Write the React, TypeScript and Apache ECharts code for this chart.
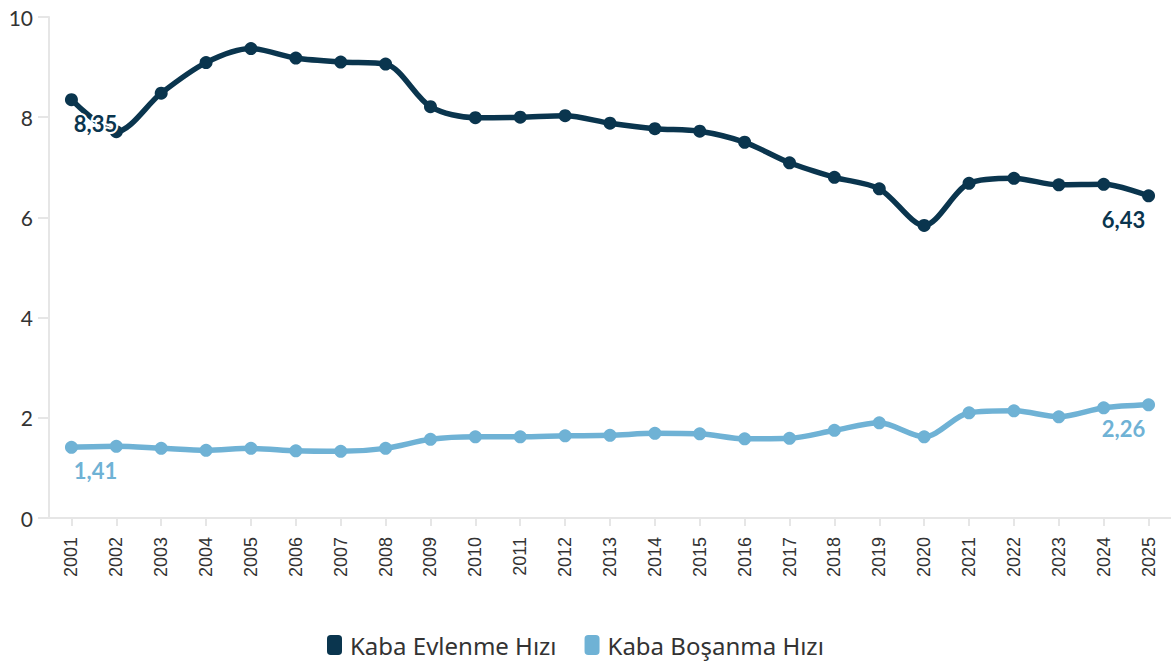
import React, { useEffect, useRef } from "react";
import * as echarts from "echarts";

const years = ["2001","2002","2003","2004","2005","2006","2007","2008","2009","2010","2011","2012","2013","2014","2015","2016","2017","2018","2019","2020","2021","2022","2023","2024","2025"];
const marriageRate = [8.35,7.71,8.48,9.09,9.37,9.18,9.10,9.06,8.21,7.99,8.00,8.03,7.88,7.77,7.72,7.50,7.09,6.80,6.57,5.84,6.68,6.78,6.65,6.66,6.43];
const divorceRate = [1.41,1.43,1.39,1.35,1.39,1.34,1.33,1.39,1.57,1.62,1.62,1.64,1.65,1.69,1.68,1.58,1.59,1.75,1.90,1.62,2.10,2.14,2.02,2.20,2.26];
const seriesNames = ["Kaba Evlenme Hızı", "Kaba Boşanma Hızı"];
const yTicks = { min: 0, max: 10, interval: 2 };

const DARK = "#0a354e";
const LIGHT = "#6fb2d5";

function withEndLabels(values: number[], color: string) {
  const last = values.length - 1;
  return values.map((v, i) => {
    if (i === 0 || i === last) {
      return {
        value: v,
        label: {
          show: true,
          position: "bottom",
          distance: 6,
          offset: [i === 0 ? 24 : -25, 0],
          formatter: (p: any) => String(p.value.toFixed(2)).replace(".", ","),
          color,
          fontFamily: "Lato",
          fontWeight: "bold",
          fontSize: 22,
          textBorderColor: "#fff",
          textBorderWidth: 4,
        },
      };
    }
    return v;
  });
}

export default function App() {
  const ref = useRef<HTMLDivElement>(null);
  useEffect(() => {
    if (!ref.current) return;
    const chart = echarts.init(ref.current, undefined, { renderer: "svg" });
    chart.setOption({
      animation: false,
      backgroundColor: "#ffffff",
      grid: { left: 49, right: 0, top: 17, bottom: 148 },
      legend: {
        left: 322,
        top: 628,
        icon: "roundRect",
        itemWidth: 15,
        itemHeight: 20,
        itemGap: 28,
        textStyle: { fontFamily: "Noto Sans", fontSize: 24, color: "#333", padding: [0, 0, 0, 3] },
        data: seriesNames,
      },
      xAxis: {
        type: "category",
        data: years,
        boundaryGap: true,
        axisLine: { show: true, lineStyle: { color: "#e6e6e6", width: 2 } },
        axisTick: { show: true, alignWithLabel: true, length: 8, lineStyle: { color: "#e6e6e6", width: 2 } },
        axisLabel: { rotate: 90, margin: 19, color: "#333", fontFamily: "Liberation Sans", fontSize: 18 },
        splitLine: { show: false },
      },
      yAxis: {
        type: "value",
        min: yTicks.min,
        max: yTicks.max,
        interval: yTicks.interval,
        axisLine: { show: true, lineStyle: { color: "#e6e6e6", width: 2 } },
        axisTick: { show: true, length: 11, lineStyle: { color: "#e6e6e6", width: 2 } },
        axisLabel: { color: "#333", fontFamily: "Lato", fontSize: 21, margin: 16 },
        splitLine: { show: false },
      },
      series: [
        {
          name: seriesNames[0],
          type: "line",
          smooth: 0.3,
          data: withEndLabels(marriageRate, DARK),
          symbol: "circle",
          symbolSize: 13,
          itemStyle: { color: DARK },
          lineStyle: { color: DARK, width: 5.5 },
          z: 3,
        },
        {
          name: seriesNames[1],
          type: "line",
          smooth: 0.3,
          data: withEndLabels(divorceRate, LIGHT),
          symbol: "circle",
          symbolSize: 13,
          itemStyle: { color: LIGHT },
          lineStyle: { color: LIGHT, width: 5.5 },
          z: 2,
        },
      ],
    });
    return () => chart.dispose();
  }, []);
  return (
    <div
      ref={ref}
      style={{ position: "fixed", left: 0, top: 0, width: 1171, height: 666 }}
    />
  );
}
